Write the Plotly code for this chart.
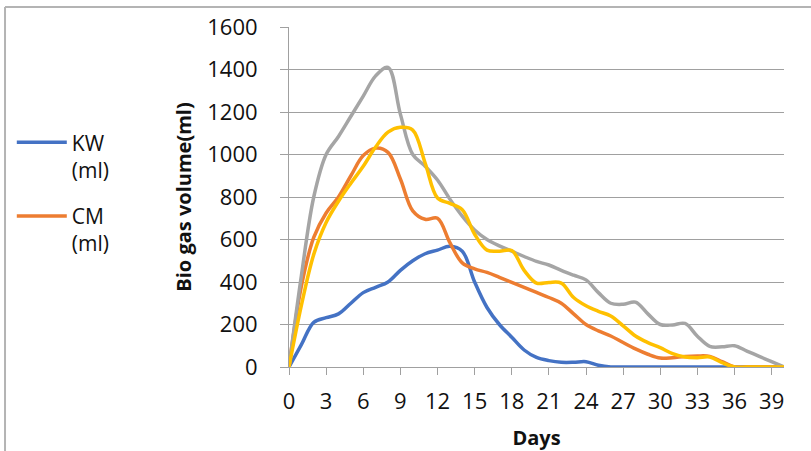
import plotly.graph_objects as go

days = list(range(0, 41))

kw = [0, 105, 210, 232, 250, 300, 350, 375, 400, 455, 500, 533, 550, 568, 545,
      400, 280, 200, 140, 80, 45, 30, 22, 22, 25, 8, 0, 0, 0, 0,
      0, 0, 0, 0, 0, 0, 0, 0, 0, 0, 0]
cm = [0, 380, 610, 725, 800, 900, 995, 1030, 1010, 885, 735, 695, 700, 585, 490,
      462, 445, 422, 398, 375, 351, 327, 300, 250, 200, 170, 146, 115, 85, 60,
      42, 44, 50, 52, 50, 25, 0, 0, 0, 0, 0]
series3 = [0, 430, 800, 1000, 1085, 1180, 1275, 1370, 1410, 1190, 1000, 945, 880, 790, 710,
           645, 600, 570, 545, 520, 497, 480, 455, 432, 410, 350, 300, 295, 305, 250,
           200, 198, 205, 145, 97, 95, 100, 75, 50, 25, 0]
series4 = [0, 290, 530, 680, 780, 865, 945, 1035, 1105, 1128, 1115, 960, 795, 770, 740,
           625, 550, 545, 548, 455, 395, 398, 395, 327, 288, 262, 240, 194, 146, 115,
           91, 63, 47, 44, 47, 20, 0, 0, 0, 0, 0]

x_ticks = list(range(0, 40, 3))
y_ticks = list(range(0, 1601, 200))

FONT = "Open Sans"
TXT = "#111111"
GRID = "#a0a0a0"
BORDER = "#b4b4b4"

fig = go.Figure()
traces = [
    ("KW<br>(ml)", kw, "#4472C4", True),
    ("CM<br>(ml)", cm, "#ED7D31", True),
    ("Series 3", series3, "#A5A5A5", False),
    ("Series 4", series4, "#FFC000", False),
]
for i, (name, vals, col, show) in enumerate(traces):
    fig.add_trace(go.Scatter(
        x=days, y=vals, name=name, mode="lines", legendgroup=f"g{i}",
        line=dict(color=col, width=3.5, shape="spline", smoothing=1.0),
        showlegend=show,
    ))

fig.update_layout(
    width=811, height=451,
    margin=dict(l=289, r=27, t=27, b=84, autoexpand=False),
    paper_bgcolor="white", plot_bgcolor="white",
    font=dict(family=FONT, size=22, color=TXT),
    legend=dict(
        x=-0.56, y=0.72, xanchor="left", yanchor="top",
        font=dict(family=FONT, size=21, color=TXT),
        valign="top", bgcolor="rgba(0,0,0,0)",
        itemwidth=50, tracegroupgap=16,
    ),
    xaxis=dict(
        range=[0, 40], tickmode="array", tickvals=x_ticks,
        ticktext=[str(v) for v in x_ticks],
        showgrid=False, zeroline=False, automargin=False,
        showline=True, linecolor=GRID, linewidth=1,
        ticks="outside", ticklen=7, tickcolor=GRID, tickwidth=1,
        tickfont=dict(family=FONT, size=22, color=TXT),
        ticklabelstandoff=8,
        title=dict(text="<b>Days</b>", font=dict(family=FONT, size=20, color=TXT), standoff=17),
    ),
    yaxis=dict(
        range=[0, 1600], tickmode="array", tickvals=y_ticks,
        showgrid=True, gridcolor=GRID, gridwidth=1,
        zeroline=False, automargin=False,
        showline=True, linecolor=GRID, linewidth=1,
        ticks="outside", ticklen=8, tickcolor=GRID, tickwidth=1,
        tickfont=dict(family=FONT, size=22, color=TXT),
        ticklabelstandoff=18,
        title=dict(text="<b>Bio gas volume(ml)</b>", font=dict(family=FONT, size=20, color=TXT), standoff=10),
    ),
    shapes=[
        dict(type="line", xref="paper", yref="paper",
             x0=-0.5737, x1=1.06, y0=1.0588, y1=1.0588,
             line=dict(color=BORDER, width=2), layer="below"),
        dict(type="line", xref="paper", yref="paper",
             x0=-0.5737, x1=-0.5737, y0=-0.25, y1=1.0588,
             line=dict(color=BORDER, width=2), layer="below"),
    ],
)

fig.write_html(
    "out.html",
    config={"displayModeBar": False},
    post_script="document.body.style.margin='0';document.body.style.overflow='hidden';",
)
